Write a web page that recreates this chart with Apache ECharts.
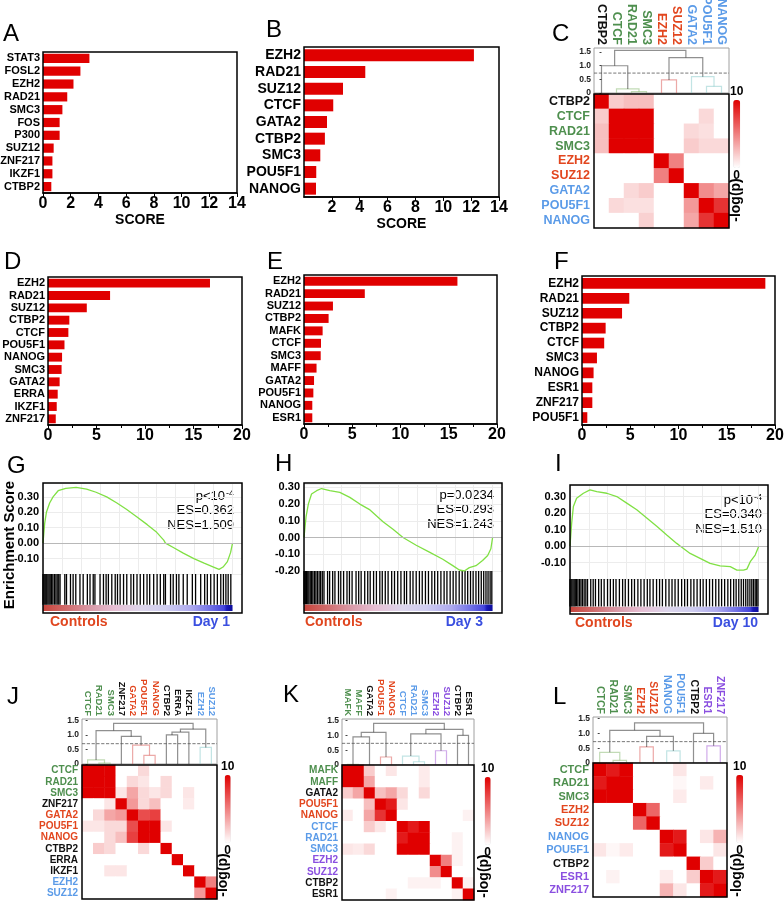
<!DOCTYPE html>
<html><head><meta charset="utf-8">
<script src="https://cdn.jsdelivr.net/npm/echarts@6/dist/echarts.min.js"></script>
<style>html,body{margin:0;padding:0;background:#fff}#c{width:784px;height:901px}</style>
</head><body><div id="c"></div><script>
// ---------------- DATA ----------------
const A_cats = ['STAT3','FOSL2','EZH2','RAD21','SMC3','FOS','P300','SUZ12','ZNF217','IKZF1','CTBP2'];
const A_vals = [3.35,2.7,2.2,1.75,1.4,1.2,1.2,0.77,0.68,0.68,0.6];
const B_cats = ['EZH2','RAD21','SUZ12','CTCF','GATA2','CTBP2','SMC3','POU5F1','NANOG'];
const B_vals = [12.2,4.4,2.8,2.1,1.65,1.5,1.17,0.88,0.86];
const D_cats = ['EZH2','RAD21','SUZ12','CTBP2','CTCF','POU5F1','NANOG','SMC3','GATA2','ERRA','IKZF1','ZNF217'];
const D_vals = [16.7,6.4,4.0,2.2,2.1,1.7,1.45,1.4,1.2,1.0,0.9,0.8];
const E_cats = ['EZH2','RAD21','SUZ12','CTBP2','MAFK','CTCF','SMC3','MAFF','GATA2','POU5F1','NANOG','ESR1'];
const E_vals = [15.9,6.3,3.0,2.55,1.93,1.76,1.73,1.3,1.04,0.97,0.86,0.86];
const F_cats = ['EZH2','RAD21','SUZ12','CTBP2','CTCF','SMC3','NANOG','ESR1','ZNF217','POU5F1'];
const F_vals = [19.0,4.9,4.15,2.45,2.3,1.55,1.2,1.07,1.07,0.55];
const SCORE_TICKS_AB = [0,14,2];
const SCORE_TICKS_DEF = [0,20,5];

const C_genes = ['CTBP2','CTCF','RAD21','SMC3','EZH2','SUZ12','GATA2','POU5F1','NANOG'];
const C_groups = ['k','g','g','g','r','r','b','b','b'];
const C_matrix = [
 [10,2,2.5,2.5,0,0,0,0,0],
 [2,10,10,10,0,0,0,1.5,0],
 [2.5,10,10,10,0,0,1.5,1.2,0],
 [2.5,10,10,10,0,0,2,1.5,1.5],
 [0,0,0,0,10,5,0,0,0],
 [0,0,0,0,5,10,0,0,0],
 [0,0,1.5,2,0,0,10,4.5,3.5],
 [0,1.5,1.2,1.2,0,0,4,10,8],
 [0,0,0,1.8,0,0,3.5,8,10]];
// dendrogram links: [leftPos, leftHeight, rightPos, rightHeight, mergeHeight, colour group]
const C_links = [[2,0,3,0,0.05,'g'],[1,0,2.5,0.05,0.15,'g'],[0,0,1.75,0.15,1.0,'k'],[4,0,5,0,0.48,'r'],
 [7,0,8,0,0.24,'b'],[6,0,7.5,0.24,0.6,'b'],[4.5,0.48,6.75,0.6,1.3,'k'],[0.875,1.0,5.625,1.3,1.56,'k']];
const C_cut = 0.73;

const J_genes = ['CTCF','RAD21','SMC3','ZNF217','GATA2','POU5F1','NANOG','CTBP2','ERRA','IKZF1','EZH2','SUZ12'];
const J_groups = ['g','g','g','k','r','r','r','k','k','k','b','b'];
const J_matrix = [
 [10,10,10,0,0,1.5,0,0,0,0,0,0],
 [10,10,10,0,1.5,1,0,1.5,0,0,0,0],
 [10,10,10,1,3.5,1.5,1,1.5,0,1,0,0],
 [0,0,1,10,4,1.5,2.5,0,0,0.8,0,0],
 [0,1.5,3.5,4,10,7,7.5,0,0,0,0,0],
 [1,1,1.5,1.5,7,10,10,1,0,0,0,0],
 [0,0,1.5,2.5,7.5,10,10,0,0,0,0,0],
 [0,2,1.5,0,0,1.5,0,10,0,0,0,0],
 [0,0,0,0,0,0,0,0,10,0,0,0],
 [0,0,1,1,0,0,0,0,0,10,0,0],
 [0,0,0,0,0,0,0,0,0,0,10,5],
 [0,0,0,0,0,0,0,0,0,0,4,10]];
const J_links = [[1,0,2,0,0.03,'g'],[0,0,1.5,0.03,0.14,'g'],[5,0,6,0,0.3,'r'],[4,0,5.5,0.3,0.65,'r'],[10,0,11,0,0.57,'b'],
 [3,0,4.75,0.65,0.95,'k'],[0.75,0.14,3.875,0.95,1.15,'k'],[7,0,8,0,1.0,'k'],[7.5,1.0,9,0,1.1,'k'],[8.25,1.1,10.5,0.57,1.2,'k'],[2.31,1.15,9.375,1.2,1.4,'k']];
const J_cut = 0.7;

const K_genes = ['MAFK','MAFF','GATA2','POU5F1','NANOG','CTCF','RAD21','SMC3','EZH2','SUZ12','CTBP2','ESR1'];
const K_groups = ['g','g','k','r','r','b','b','b','p','p','k','k'];
const K_matrix = [
 [10,10,2,0,1,0,0,0.8,0,0,0,0],
 [10,10,3.5,0,0,0,0,0.8,0,0,0,0],
 [2,3.5,10,2.5,3.5,1.5,0,1.5,0,0,0,0],
 [0,0,2.5,10,9,1,0,0,0,0,0,0],
 [0.8,0,3.5,8,10,0,0,0,0,0,0,0.5],
 [0,0,2,1,0,10,9,10,0,0,0,0],
 [0,0,0,0,0,9,10,10,0,0,0.5,0],
 [1,0.8,1.5,0,0,10,10,10,0,0,0.5,0],
 [0,0,0,0,0,0,0,0,10,5,0.5,0],
 [0,0,0,0,0,0,0,0,4.5,10,0,0],
 [0,0,0,0,0,0,0.5,0.5,0.5,0,10,0.5],
 [0,0,0,0,0.5,0,0,0,0,0,0.5,10]];
const K_links = [[0,0,1,0,0.02,'g'],[3,0,4,0,0.27,'r'],[6,0,7,0,0.11,'b'],[5,0,6.5,0.11,0.3,'b'],[8,0,9,0,0.48,'p'],
 [0.5,0.02,2,0,0.95,'k'],[1.25,0.95,3.5,0.27,1.1,'k'],[10,0,11,0,1.0,'k'],[5.75,0.3,8.5,0.48,1.05,'k'],[7.125,1.05,10.5,1.0,1.2,'k'],[2.375,1.1,8.8,1.2,1.4,'k']];
const K_cut = 0.73;

const L_genes = ['CTCF','RAD21','SMC3','EZH2','SUZ12','NANOG','POU5F1','CTBP2','ESR1','ZNF217'];
const L_groups = ['g','g','g','r','r','b','b','k','p','p'];
const L_matrix = [
 [10,9,10,0,0,0,1,0,0,0],
 [9,10,10,0,0,0,0.3,0,0.8,0],
 [10,10,10,0,0,0,0.8,0,0,0],
 [0,0,0,10,6,0,0,0,0,0],
 [0,0,0,6,10,0,0,0,0,0],
 [0,0,0,0,0,10,9,0,1,3],
 [1,0.3,0.8,0,0,9,10,0,0,1],
 [0,0,0,0,0,0,0,10,2,0],
 [0,0.5,0,0,0,0.8,0,2,10,9],
 [0,0,0,0,0,3,1,0,9,10]];
const L_links = [[1,0,2,0,0.09,'g'],[0,0,1.5,0.09,0.36,'g'],[3,0,4,0,0.54,'r'],[5,0,6,0,0.41,'b'],[8,0,9,0,0.58,'p'],
 [3.5,0.54,5.5,0.41,0.9,'k'],[0.75,0.36,4.5,0.9,1.1,'k'],[7,0,8.5,0.58,1.0,'k'],[2.6,1.1,7.75,1.0,1.35,'k']];
const L_cut = 0.72;

// GSEA running enrichment score, [rank %, ES]
const G_curve = [[0,0],[0.9,0.13],[1.8,0.2],[3.5,0.26],[5.3,0.3],[8,0.34],[12,0.355],[17.5,0.362],[23,0.35],[28,0.33],[33.6,0.3],[39,0.26],[44,0.22],[49.6,0.17],[55,0.12],[60,0.07],[63.7,0.02],[64.6,0],[69,-0.03],[74,-0.065],[79.6,-0.1],[85,-0.13],[90,-0.155],[92.9,-0.17],[95,-0.155],[97.3,-0.12],[99,-0.06],[100,0]];
const H_curve = [[0,0],[1.1,0.125],[2.3,0.2],[4,0.26],[6.7,0.28],[9.3,0.293],[13.7,0.28],[19,0.27],[24.3,0.24],[29.6,0.2],[35,0.165],[41.9,0.095],[47.2,0.05],[52.5,0],[59.5,-0.046],[66.5,-0.087],[73.6,-0.13],[78.9,-0.168],[82.4,-0.194],[85,-0.2],[87.7,-0.18],[91.2,-0.168],[94.7,-0.137],[97.4,-0.107],[99.1,-0.067],[100,0]];
const I_curve = [[0,0],[0.9,0.14],[1.8,0.24],[3.5,0.29],[7.1,0.32],[10.6,0.34],[14.2,0.33],[19.5,0.32],[24.8,0.3],[30.1,0.26],[35.4,0.22],[40.7,0.17],[46,0.12],[51.3,0.067],[56.6,0.016],[58.4,0],[63.7,-0.045],[69,-0.075],[74.3,-0.105],[79.6,-0.12],[85,-0.125],[88.5,-0.146],[92,-0.146],[93.8,-0.14],[95.6,-0.095],[98.2,-0.055],[100,-0.004]];
// positions of gene-set hits along the ranked list (%)
const G_hits = [0,0.5,1,1.5,2,2.6,3.2,3.8,4.5,5.2,6,6.8,7.5,8.3,9,11.5,12.4,14.5,15.9,17.3,19.5,21.2,23.4,24.8,26.5,27.4,30.1,31.9,33.3,34.5,36.3,38.1,39.3,40.7,42.5,44.2,46.4,47.8,49.6,51.3,53.1,54.9,56.3,58.4,60.2,61.9,63.7,64.6,67.3,68.7,70.4,71.7,74,76.1,78.8,80.5,83.2,85.3,86.7,88.5,90.3,92,93.8,95.2,96.5,97.7,99.1];
const H_hits = [0,0.4,0.9,1.4,2,2.6,3.3,4,4.7,5.5,6.3,7.1,8,8.8,9.7,10.6,12.5,13.6,15.2,16.4,18.3,19.5,21,22.8,24.1,25.5,27.6,29,30.3,32.2,33.8,35.1,36.9,38.4,40.2,41.5,43.1,44.6,46.5,48,49.7,51.4,53.2,54.4,56.3,57.8,59.5,61.2,62.7,64.4,66,67.8,69.3,70.9,72.6,74.3,75.8,77.5,79.1,80.6,82.3,83.9,85.4,86.8,88.3,89.7,91.2,92.6,94,95.3,96.5,97.6,98.7,99.6];
const I_hits = [0,0.5,1,1.6,2.2,2.8,3.5,4.2,5,5.8,6.6,7.5,8.4,9.3,11,12.3,13.5,15.2,16.6,18.1,19.9,21.4,23,24.4,26.2,27.9,29.3,31,32.7,34.2,36,37.6,39.3,41,42.4,44.1,45.9,47.5,49,50.8,52.5,54.1,55.7,57.4,59.2,60.8,62.3,64.1,65.7,67.4,69.1,70.6,72.3,74,75.6,77.3,78.9,80.4,82,83.7,85.2,86.8,88.1,89.5,90.8,92,93.2,94.3,95.4,96.4,97.3,98.2,99,99.7];
const G_stats = ['p<10{s|-4}','ES=0.362','NES=1.509'];
const H_stats = ['p=0.0234','ES=0.293','NES=1.243'];
const I_stats = ['p<10{s|-4}','ES=0.340','NES=1.510'];

// ---------------- STYLE / LAYOUT ----------------
const FONT = "'Liberation Sans', Arial, Helvetica, sans-serif";
const RED = '#e00000';
const GROUP_COLORS = {k:'#111111', g:'#4e8f4e', r:'#e2461e', b:'#5b9be8', p:'#8a4fe0'};
const DENDRO_COLORS = {k:'#222222', g:'#86b86e', r:'#d9534f', b:'#86c9c9', p:'#a45ad6'};
const STRIP = 0.17;
const GRAD = {type:'linear', x:0, y:0, x2:1, y2:0, colorStops:[
 {offset:0,color:'#c8453c'},{offset:0.12,color:'#d06a6a'},{offset:0.25,color:'#d99aa8'},{offset:0.38,color:'#e6bfd4'},
 {offset:0.52,color:'#ddd6ec'},{offset:0.65,color:'#cfcdf0'},{offset:0.78,color:'#aeaaee'},{offset:0.88,color:'#7373e6'},
 {offset:0.955,color:'#4545dc'},{offset:0.97,color:'#1a1ab8'},{offset:1,color:'#0c0c9a'}]};

const opt = {animation:false, backgroundColor:'#fff', grid:[], xAxis:[], yAxis:[], series:[], visualMap:[], graphic:[]};
function grid(r, extra){ opt.grid.push(Object.assign({left:r[0], top:r[1], width:r[2], height:r[3], containLabel:false, outerBoundsMode:'none'}, extra||{})); return opt.grid.length-1; }
function xa(o){ opt.xAxis.push(o); return opt.xAxis.length-1; }
function ya(o){ opt.yAxis.push(o); return opt.yAxis.length-1; }
function txt(x, y, s, o){ o = o || {};
  opt.graphic.push({type:'text', x:x, y:y, rotation:o.rot||0, silent:true,
  style:{text:s, fontSize:o.size||13, fontWeight:o.weight||'normal', fontFamily:FONT, fill:o.color||'#000',
  textAlign:o.align||'left', textVerticalAlign:'middle',
  rich:{s:{fontSize:9, fontFamily:FONT, fill:o.color||'#000', verticalAlign:'top', lineHeight:9, padding:[0,0,6,1]}}}}); }

function barPanel(cats, vals, r, ticks, catSize, o){
  o = o || {};
  const g = grid(r, {show:true, borderColor:'#000', borderWidth:1.5, z:10, backgroundColor:'transparent'});
  const xi = xa({type:'value', gridIndex:g, min:ticks[0], max:ticks[1], interval:ticks[2],
    axisLine:{show:true, lineStyle:{color:'#000', width:1.5}},
    axisTick:{show:true, length:4, lineStyle:{color:'#000', width:1}},
    minorTick: o.minor ? {show:true, splitNumber:2, length:3, lineStyle:{color:'#000'}} : {show:false},
    splitLine:{show:false},
    axisLabel:{fontSize:16, fontWeight:'bold', color:'#000', fontFamily:FONT, margin:3, showMinLabel:!o.hideZero},
    name:o.name||'', nameLocation:'middle', nameGap:o.nameGap||20,
    nameTextStyle:{fontSize:14, fontWeight:'bold', color:'#000', fontFamily:FONT}});
  const yi = ya({type:'category', gridIndex:g, data:cats, inverse:true, axisLine:{show:false}, axisTick:{show:false},
    axisLabel:{interval:0, fontSize:catSize, fontWeight:'bold', color:'#000', fontFamily:FONT, margin:3}});
  opt.series.push({type:'bar', xAxisIndex:xi, yAxisIndex:yi, data:vals, barCategoryGap:'28%', itemStyle:{color:RED}, silent:true});
}

function heatPanel(genes, groups, matrix, links, cut, dr, hr, dmax, fs, cfs, cb, lg){
  const n = genes.length;
  const gd = grid(dr, {show:true, borderColor:'#a0a0a0', borderWidth:1, backgroundColor:'transparent'});
  const xv = xa({type:'value', gridIndex:gd, min:-0.5, max:n-0.5, show:false});
  xa({type:'category', gridIndex:gd, position:'top', data:genes, axisLine:{show:false}, axisTick:{show:false},
    axisLabel:{rotate:90, interval:0, fontSize:cfs, fontWeight:'bold', fontFamily:FONT, margin:3, color:(v,i)=>GROUP_COLORS[groups[i]]}});
  const yd = ya({type:'value', gridIndex:gd, min:0, max:dmax, interval:0.5, splitLine:{show:false},
    axisLine:{show:false}, axisTick:{show:true, length:2, lineStyle:{color:'#444'}},
    axisLabel:{fontSize:8.5, fontWeight:'bold', color:'#222', fontFamily:FONT, margin:3, showMaxLabel:false,
      formatter:v=> Math.abs(v)<1e-9 ? '0' : v.toFixed(1)}});
  opt.series.push({type:'lines', coordinateSystem:'cartesian2d', xAxisIndex:xv, yAxisIndex:yd, polyline:true, silent:true,
    data: links.map(l=>({coords:[[l[0],l[1]],[l[0],l[4]],[l[2],l[4]],[l[2],l[3]]], lineStyle:{color:DENDRO_COLORS[l[5]], width:1.2}}))});
  opt.series.push({type:'line', xAxisIndex:xv, yAxisIndex:yd, data:[[-0.5,cut],[n-0.5,cut]], symbol:'none', silent:true,
    lineStyle:{type:'dashed', color:'#555', width:0.8}});
  const gh = grid(hr, {show:true, borderColor:'#000', borderWidth:1.5, z:10, backgroundColor:'transparent'});
  const hx = xa({type:'category', gridIndex:gh, data:genes, show:false});
  const hy = ya({type:'category', gridIndex:gh, data:genes, inverse:true, axisLine:{show:false}, axisTick:{show:false},
    axisLabel:{interval:0, fontSize:fs, fontWeight:'bold', fontFamily:FONT, margin:4, color:(v,i)=>GROUP_COLORS[groups[i]]}});
  const data = [];
  matrix.forEach((row, ri) => row.forEach((v, ci) => data.push([ci, ri, v])));
  opt.series.push({type:'heatmap', xAxisIndex:hx, yAxisIndex:hy, data:data, silent:true});
  opt.visualMap.push({type:'continuous', min:0, max:10, seriesIndex:opt.series.length-1, inRange:{color:['#ffffff','#e00000']},
    calculable:false, orient:'vertical', left:cb[0], top:cb[1], itemWidth:cb[2], itemHeight:cb[3], text:['10','0'], textGap:2, padding:0,
    textStyle:{fontSize:12, fontWeight:'bold', color:'#000', fontFamily:FONT}});
  txt(lg[0], lg[1], '-log(p)', {rot:Math.PI/2, size:14, weight:'bold', align:'center'});
}

function gseaPanel(curve, hits, frame, cr, rr, yr, showMin, stats, sp, day, lp){
  const gf = grid(frame, {show:true, borderColor:'#000', borderWidth:1.5, z:10, backgroundColor:'transparent'});
  xa({type:'value', gridIndex:gf, min:0, max:1, show:false}); ya({type:'value', gridIndex:gf, min:0, max:1, show:false});
  const gc = grid(cr);
  const cx = xa({type:'value', gridIndex:gc, min:0, max:105, interval:10, axisLine:{show:false}, axisTick:{show:false},
    axisLabel:{show:false}, splitLine:{show:true, lineStyle:{color:'#ececec', width:1}}});
  const cy = ya({type:'value', gridIndex:gc, min:yr[0], max:yr[1], interval:0.1, axisLine:{show:false}, axisTick:{show:false},
    splitLine:{show:true, lineStyle:{color:'#ececec', width:1}},
    axisLabel:{fontSize:11, fontWeight:'bold', color:'#000', fontFamily:FONT, margin:4, showMaxLabel:false, showMinLabel:showMin,
      formatter:v=>v.toFixed(2)}});
  opt.series.push({type:'line', xAxisIndex:cx, yAxisIndex:cy, data:curve, symbol:'none', silent:true, z:3,
    lineStyle:{color:'#80e044', width:1.3},
    markLine:{silent:true, symbol:'none', label:{show:false}, lineStyle:{color:'#b8b8b8', width:1, type:'solid'}, data:[{yAxis:0}]}});
  const gr = grid(rr);
  const rx = xa({type:'value', gridIndex:gr, min:0, max:105, show:false});
  const ry = ya({type:'value', gridIndex:gr, min:0, max:1, show:false});
  opt.series.push({type:'custom', xAxisIndex:rx, yAxisIndex:ry, data:hits.map(h=>[h,1]), silent:true,
    renderItem:(p, api)=>{ const a = api.coord([api.value(0), STRIP]); const b = api.coord([api.value(0), 1]);
      return {type:'line', shape:{x1:a[0], y1:a[1], x2:b[0], y2:b[1]}, style:{stroke:'#000', lineWidth:1.3}}; },
    markArea:{silent:true, itemStyle:{color:GRAD, opacity:1}, data:[[{xAxis:0, yAxis:0},{xAxis:100, yAxis:STRIP*0.95}]]}});
  stats.forEach((s, i) => txt(sp[0], sp[1] + i*14.5, s, {size:13, align:'right'}));
  txt(lp[0], lp[2], 'Controls', {size:14, weight:'bold', color:'#e0461f'});
  txt(lp[1], lp[2], day, {size:14, weight:'bold', color:'#3a4fe0', align:'right'});
}

// ---------------- PANELS ----------------
barPanel(A_cats, A_vals, [43,52,194,141], SCORE_TICKS_AB, 11, {name:'SCORE', nameGap:20});
barPanel(B_cats, B_vals, [304,47,195,150], SCORE_TICKS_AB, 14, {name:'SCORE', nameGap:16, hideZero:true});
heatPanel(C_genes, C_groups, C_matrix, C_links, C_cut, [594,48,135,45], [594,94,135,134], 1.65, 12.5, 12.5, [730,86,7,68], [736,200]);
barPanel(D_cats, D_vals, [48,277,194,148], SCORE_TICKS_DEF, 11, {minor:true});
barPanel(E_cats, E_vals, [304,275,193,149], SCORE_TICKS_DEF, 11, {minor:true});
barPanel(F_cats, F_vals, [582,276,193,149], SCORE_TICKS_DEF, 12, {minor:true});
gseaPanel(G_curve, G_hits, [43,483,199,130], [43,483,199,91], [43,574,199,37], [-0.2,0.39], false, G_stats, [234,496], 'Day 1', [50,230,622]);
gseaPanel(H_curve, H_hits, [304,483,198,130], [304,484,198,87], [304,571,198,40], [-0.2,0.32], true, H_stats, [494,495], 'Day 3', [305,483,622]);
gseaPanel(I_curve, I_hits, [570,485,198,129], [570,485,198,94], [570,579,198,33], [-0.2,0.37], false, I_stats, [762,500], 'Day 10', [575,758,623]);
heatPanel(J_genes, J_groups, J_matrix, J_links, J_cut, [82,719,135,45], [82,765,135,134], 1.55, 10, 9.5, [221,761,6,68], [223,875]);
heatPanel(K_genes, K_groups, K_matrix, K_links, K_cut, [342,719,132,46], [342,765,132,135], 1.55, 10, 9.5, [481,763,6,68], [484,876]);
heatPanel(L_genes, L_groups, L_matrix, L_links, L_cut, [593,717,134,46], [593,763,134,134], 1.55, 11, 10.5, [733,761,7,68], [737,875]);

txt(10, 545, 'Enrichment Score', {rot:Math.PI/2, size:15, weight:'bold', align:'center'});
[['A',3,34],['B',266,30],['C',552,34],['D',4,262],['E',267,262],['F',554,262],['G',7,466],['H',275,464],['I',555,464],['J',7,697],['K',283,695],['L',553,697]]
  .forEach(l => txt(l[1], l[2], l[0], {size:24}));

const chart = echarts.init(document.getElementById('c'), null, {renderer:'canvas'});
chart.setOption(opt);
</script></body></html>
